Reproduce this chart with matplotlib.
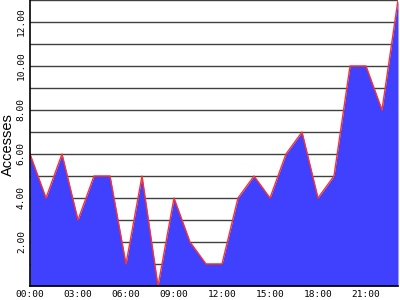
import numpy as np
import matplotlib
matplotlib.use("Agg")
import matplotlib.pyplot as plt

hours = np.arange(24)
accesses = [6, 4, 6, 3, 5, 5, 1, 5, 0, 4, 2, 1, 1, 4, 5, 4, 6, 7, 4, 5, 10, 10, 8, 13]
xticks = [0, 3, 6, 9, 12, 15, 18, 21]
xlabels = ["00:00", "03:00", "06:00", "09:00", "12:00", "15:00", "18:00", "21:00"]
yticks = [2, 4, 6, 8, 10, 12]
ylabels = ["2.00", "4.00", "6.00", "8.00", "10.00", "12.00"]

fig = plt.figure(figsize=(4, 3), dpi=100)
ax = fig.add_axes([0.075, 0.0467, 0.92, 0.9533])

# horizontal grid every unit
for v in range(1, 14):
    ax.axhline(v, color="#404040", linewidth=1.0, zorder=1)

ax.fill_between(hours, accesses, 0, color="#4040ff", linewidth=0, zorder=2)
ax.plot(hours, accesses, color="#ff3030", linewidth=1.0, zorder=3)

ax.set_xlim(0, 23)
ax.set_ylim(0, 13)
ax.set_xticks(xticks)
ax.set_xticklabels(xlabels, family="DejaVu Sans Mono", fontsize=6.8)
ax.set_yticks(yticks)
ax.set_yticklabels(ylabels, family="DejaVu Sans Mono", fontsize=6.8, rotation=90, va="center")
ax.tick_params(length=0, pad=3)

# y label placed in figure coords so it stays inside the canvas
fig.text(0.021, 0.517, "Accesses", family="Liberation Sans", fontsize=10.5,
         rotation=90, ha="center", va="center")

for s in ["top", "right"]:
    ax.spines[s].set_visible(False)
ax.spines["left"].set_linewidth(1.2)
ax.spines["bottom"].set_linewidth(1.2)
ax.spines["left"].set_zorder(4)
ax.spines["bottom"].set_zorder(4)

fig.savefig("out.png", dpi=100)
